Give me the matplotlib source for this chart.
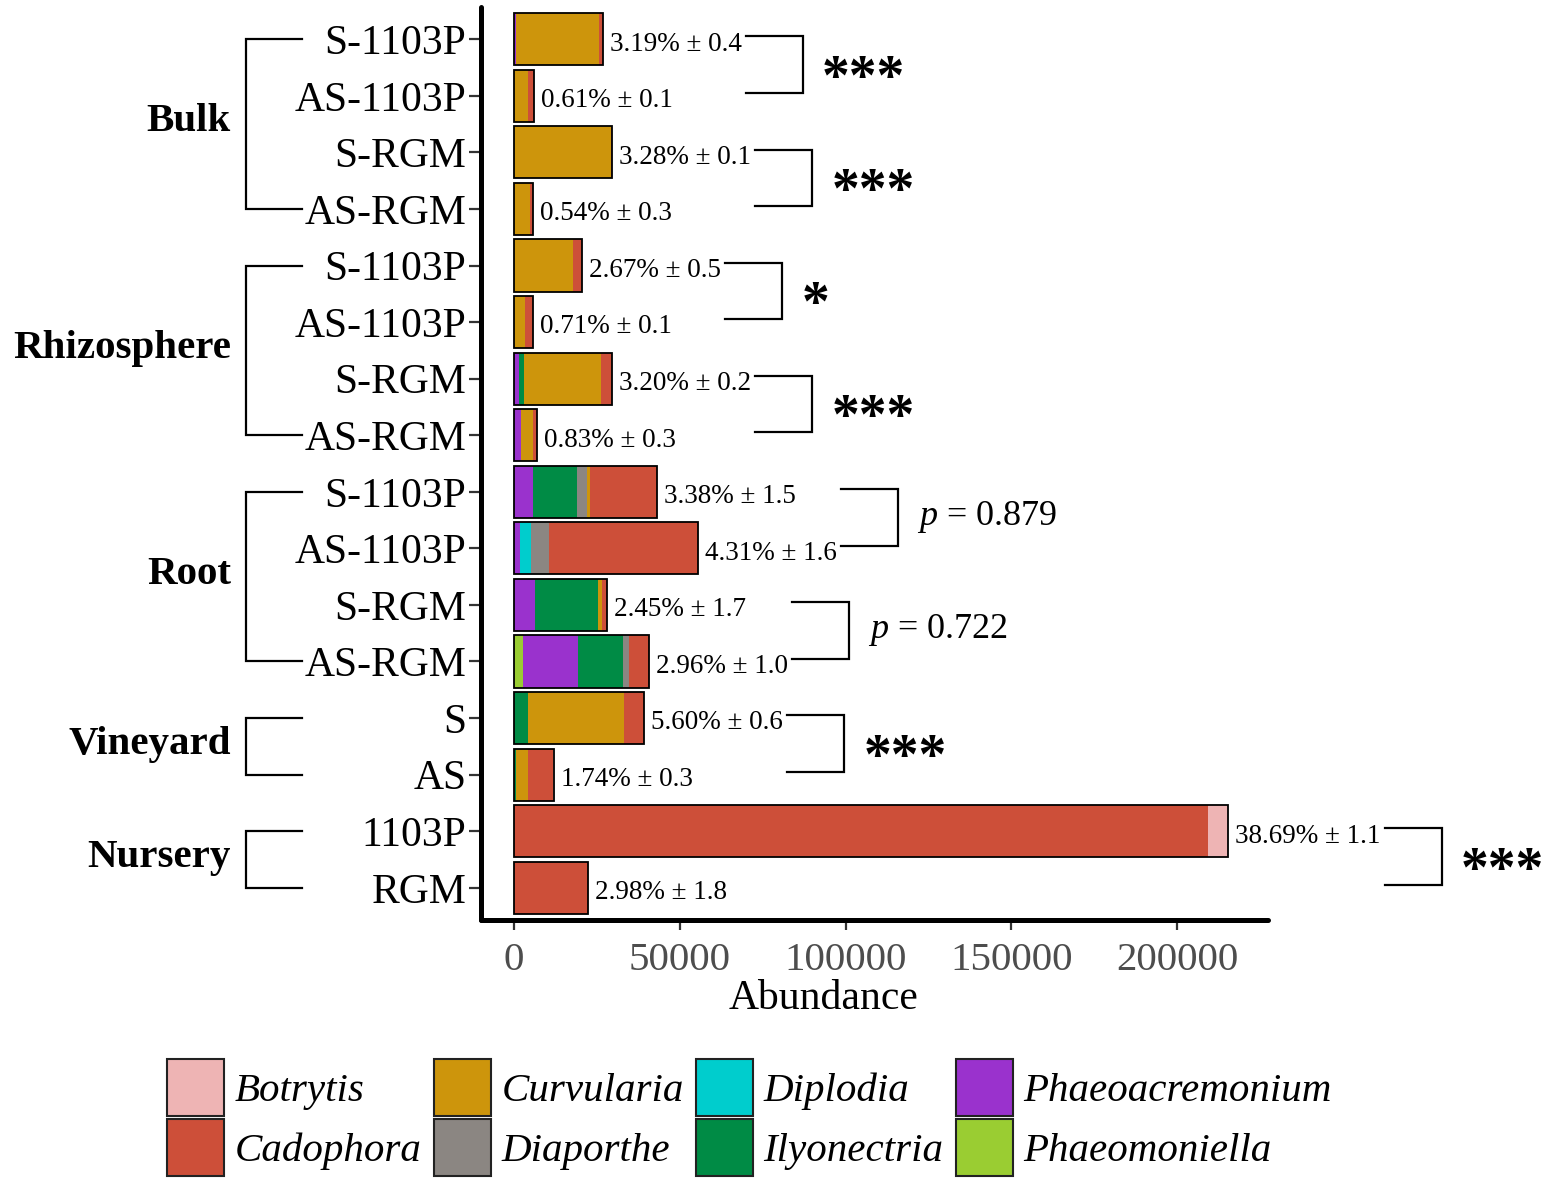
import matplotlib
matplotlib.use('Agg')
import matplotlib.pyplot as plt
from matplotlib.patches import Patch
import matplotlib.transforms as mtrans
import numpy as np

plt.rcParams['font.family'] = ['Liberation Serif', 'DejaVu Serif']
plt.rcParams['mathtext.fontset'] = 'custom'
plt.rcParams['mathtext.it'] = 'Liberation Serif:italic'
plt.rcParams['mathtext.rm'] = 'Liberation Serif'

# ---------------- data ----------------
groups = ['Bulk', 'Rhizosphere', 'Root', 'Vineyard', 'Nursery']
group_sizes = [4, 4, 4, 2, 2]
samples = ['S-1103P', 'AS-1103P', 'S-RGM', 'AS-RGM',
           'S-1103P', 'AS-1103P', 'S-RGM', 'AS-RGM',
           'S-1103P', 'AS-1103P', 'S-RGM', 'AS-RGM',
           'S', 'AS', '1103P', 'RGM']

genera = ['Botrytis', 'Cadophora', 'Curvularia', 'Diaporthe',
          'Diplodia', 'Ilyonectria', 'Phaeoacremonium', 'Phaeomoniella']
genus_colors = ['#EEB4B4', '#CD4F39', '#CD950C', '#8B8682',
                '#00CDCD', '#008B45', '#9A32CD', '#9ACD32']

phaeomoniella   = [0, 0, 0, 0,  0, 0, 0, 0,  0, 0, 0, 2600,  0, 0, 0, 0]
phaeoacremonium = [600, 0, 0, 0,  0, 0, 1400, 2000,  5700, 1900, 6300, 16800,  0, 0, 0, 0]
ilyonectria     = [0, 0, 0, 0,  0, 0, 1500, 0,  13300, 0, 19100, 13400,  4300, 500, 0, 0]
diplodia        = [0, 0, 0, 0,  0, 0, 0, 0,  0, 3200, 0, 0,  0, 0, 0, 0]
diaporthe       = [0, 0, 0, 0,  0, 0, 0, 0,  3000, 5500, 0, 1800,  0, 0, 0, 0]
curvularia      = [25000, 4200, 29300, 4800,  17900, 3300, 23300, 3600,  1000, 0, 1000, 0,  28900, 3700, 0, 0]
cadophora       = [1200, 1800, 300, 900,  2700, 2300, 3400, 1300,  20100, 44900, 1800, 6000,  6000, 7700, 209400, 22400]
botrytis        = [0, 0, 0, 0,  0, 0, 0, 0,  0, 0, 0, 0,  0, 300, 6000, 0]

pct_labels = ['3.19% ± 0.4', '0.61% ± 0.1', '3.28% ± 0.1', '0.54% ± 0.3',
              '2.67% ± 0.5', '0.71% ± 0.1', '3.20% ± 0.2', '0.83% ± 0.3',
              '3.38% ± 1.5', '4.31% ± 1.6', '2.45% ± 1.7', '2.96% ± 1.0',
              '5.60% ± 0.6', '1.74% ± 0.3', '38.69% ± 1.1', '2.98% ± 1.8']

pairs = [(0, 1), (2, 3), (4, 5), (6, 7), (8, 9), (10, 11), (12, 13), (14, 15)]
sig_labels = ['***', '***', '*', '***', '$p$ = 0.879', '$p$ = 0.722', '***', '***']

x_ticks = [0, 50000, 100000, 150000, 200000]

# stacking order from left to right
stack = [('Phaeomoniella', phaeomoniella), ('Phaeoacremonium', phaeoacremonium),
         ('Ilyonectria', ilyonectria), ('Diplodia', diplodia),
         ('Diaporthe', diaporthe), ('Curvularia', curvularia),
         ('Cadophora', cadophora), ('Botrytis', botrytis)]
cmap = dict(zip(genera, genus_colors))

# ---------------- figure ----------------
W, H = 1559, 1190
fig = plt.figure(figsize=(W / 100, H / 100), dpi=100)
ax = fig.add_axes([481 / W, 1 - 920 / H, (1268 - 481) / W, (920 - 7) / H])

y = np.arange(len(samples))
left = np.zeros(len(samples))
for name, vals in stack:
    v = np.array(vals, dtype=float)
    ax.barh(y, v, left=left, height=0.92, color=cmap[name], edgecolor='none', linewidth=0)
    left += v
ax.barh(y, left, height=0.92, fill=False, edgecolor='black', linewidth=1.3)

ax.set_ylim(15.57, -0.57)
ax.set_xlim(-9950, 227400)

for s in ['top', 'right']:
    ax.spines[s].set_visible(False)
for s in ['left', 'bottom']:
    ax.spines[s].set_linewidth(3.6)
    ax.spines[s].set_color('black')
    ax.spines[s].set_capstyle('round')

ax.set_yticks(y)
ax.set_yticklabels(samples, fontsize=30, color='black')
ax.set_xticks(x_ticks)
ax.set_xticklabels([str(t) for t in x_ticks], fontsize=29.5, color='#4D4D4D')
ax.tick_params(axis='y', length=8.5, width=1.6, color='#333333', pad=2)
ax.tick_params(axis='x', length=7, width=1.6, color='#333333', pad=9)

fig.text(824 / W, 1 - 999 / H, 'Abundance', ha='center', va='center', fontsize=30)

# percentage labels
annots = []
for yi, tot, lab in zip(y, left, pct_labels):
    a = ax.annotate(lab, xy=(tot, yi), xytext=(5, -3.5), textcoords='offset points',
                    ha='left', va='center', fontsize=19.5, annotation_clip=False)
    annots.append(a)

# left-side group brackets
bl = mtrans.blended_transform_factory(fig.transFigure, ax.transData)
start = 0
for g, n in zip(groups, group_sizes):
    y0, y1 = y[start], y[start + n - 1]
    xv, xh = 246 / W, 302 / W
    ax.plot([xh, xv, xv, xh], [y0, y0, y1, y1], transform=bl, color='black',
            lw=1.6, clip_on=False, solid_joinstyle='miter')
    ax.text(231 / W, (y0 + y1) / 2 - 0.04, g, transform=bl, ha='right', va='center',
            fontsize=29.5, fontweight='bold')
    start += n

# right-side significance brackets
fig.canvas.draw()
renderer = fig.canvas.get_renderer()
inv = ax.transData.inverted()
for (i, j), lab in zip(pairs, sig_labels):
    e1 = annots[i].get_window_extent(renderer)
    e2 = annots[j].get_window_extent(renderer)
    px0 = max(e1.x1, e2.x1) + 4
    px1 = px0 + 57
    x0 = inv.transform((px0, 0))[0]
    x1 = inv.transform((px1, 0))[0]
    ax.plot([x0, x1, x1, x0], [y[i] - 0.05, y[i] - 0.05, y[j] - 0.05, y[j] - 0.05],
            color='black', lw=1.6, clip_on=False, solid_joinstyle='miter')
    ym = (y[i] + y[j]) / 2 - 0.05
    if lab.startswith('$p$'):
        ax.annotate(lab, xy=(x1, ym), xytext=(14, 0), textcoords='offset points',
                    ha='left', va='center', fontsize=26, annotation_clip=False)
    else:
        ax.annotate(lab, xy=(x1, ym), xytext=(14, -11), textcoords='offset points',
                    ha='left', va='center', fontsize=40, fontweight='bold',
                    annotation_clip=False)

# legend
handles = [Patch(facecolor=c, edgecolor='#222222', linewidth=1.5) for c in genus_colors]
fig.legend(handles, genera, ncol=4, loc='upper left',
           bbox_to_anchor=(167 / W, 1 - 1059 / H), frameon=False,
           prop=dict(style='italic', size=29.5), handlelength=1.40, handleheight=1.78,
           handletextpad=0.25, columnspacing=0.3, labelspacing=0.06,
           borderpad=0, borderaxespad=0)

fig.savefig('out.png', dpi=100)
